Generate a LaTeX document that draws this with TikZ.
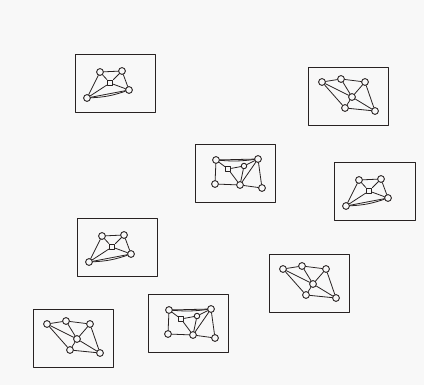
\documentclass[tikz,border=0pt]{standalone}
\definecolor{paper}{RGB}{248,248,248}
\definecolor{ink}{RGB}{40,34,34}

% kite with a small square inside
\newcommand{\kitegraph}[1]{%
\node[vtx] (#1tl) at (25,18) {};
\node[vtx] (#1tr) at (47,17) {};
\node[sqv] (#1sq) at (35,29) {};
\node[vtx] (#1r) at (54,36) {};
\node[vtx] (#1bl) at (12,44) {};
\draw[edge] (#1bl) -- (#1tl) -- (#1tr) -- (#1r) -- (#1bl);
\draw[edge] (#1bl) to[bend right=8] (#1r);
\draw[edge] (#1tl) -- (#1sq) -- (#1tr);
\draw[edge] (#1sq) -- (#1r);
\draw[edge] (#1sq) -- (#1bl);
}
% six vertices, slanted
\newcommand{\slantgraph}[1]{%
\node[vtx] (#1l) at (14,15) {};
\node[vtx] (#1t) at (33,12) {};
\node[vtx] (#1tr) at (57,15) {};
\node[vtx] (#1c) at (44,30) {};
\node[vtx] (#1bm) at (37,41) {};
\node[vtx] (#1br) at (67,44) {};
\draw[edge] (#1l) -- (#1t) -- (#1tr) -- (#1br) -- (#1bm) -- (#1l);
\draw[edge] (#1l) -- (#1c);
\draw[edge] (#1t) -- (#1c) -- (#1tr);
\draw[edge] (#1c) -- (#1bm);
\draw[edge] (#1c) -- (#1br);
}
% rectangle with a triangle on top
\newcommand{\framegraph}[1]{%
\node[vtx] (#1tl) at (21,16) {};
\node[vtx] (#1tr) at (63,15) {};
\node[sqv] (#1sq) at (33,25) {};
\node[vtx,minimum size=5.5pt] (#1tc) at (49,22) {};
\node[vtx] (#1bl) at (20,40) {};
\node[vtx] (#1bm) at (45,41) {};
\node[vtx] (#1br) at (67,44) {};
\draw[edge] (#1tl) -- (#1tr) -- (#1br) -- (#1bm) -- (#1bl) -- (#1tl);
\draw[edge] (#1tl) to[bend right=6] (#1tr);
\draw[edge] (#1tl) -- (#1sq) -- (#1bm);
\draw[edge] (#1sq) -- (#1tc);
\draw[edge] (#1tc) -- (#1tr);
\draw[edge] (#1tc) -- (#1bm) -- (#1tr);
}

\begin{document}
\begin{tikzpicture}[x=1pt,y=-1pt,line cap=round,line join=round,
  boxframe/.style={draw=ink,line width=1pt,minimum width=80pt,minimum height=58pt,inner sep=0pt,anchor=north west},
  vtx/.style={circle,draw=ink,fill=paper,line width=0.9pt,inner sep=0pt,minimum size=6.8pt},
  sqv/.style={rectangle,draw=ink,fill=paper,line width=0.9pt,inner sep=0pt,minimum size=5.8pt},
  edge/.style={draw=ink,line width=0.8pt}]
\fill[paper] (0,0) rectangle (424,385);
\useasboundingbox (0,0) rectangle (424,385);
\begin{scope}[shift={(75,54)}]
\node[boxframe] (box1) at (0,0) {};
\kitegraph{a}
\end{scope}
\begin{scope}[shift={(308,67)}]
\node[boxframe] (box2) at (0,0) {};
\slantgraph{b}
\end{scope}
\begin{scope}[shift={(195,144)}]
\node[boxframe] (box3) at (0,0) {};
\framegraph{c}
\end{scope}
\begin{scope}[shift={(334,162)}]
\node[boxframe,minimum width=81pt] (box4) at (0,0) {};
\kitegraph{d}
\end{scope}
\begin{scope}[shift={(77,218)}]
\node[boxframe] (box5) at (0,0) {};
\kitegraph{e}
\end{scope}
\begin{scope}[shift={(269,254)}]
\node[boxframe] (box6) at (0,0) {};
\slantgraph{f}
\end{scope}
\begin{scope}[shift={(148,294)}]
\node[boxframe] (box7) at (0,0) {};
\framegraph{g}
\end{scope}
\begin{scope}[shift={(33,309)}]
\node[boxframe] (box8) at (0,0) {};
\slantgraph{h}
\end{scope}
\end{tikzpicture}
\end{document}
